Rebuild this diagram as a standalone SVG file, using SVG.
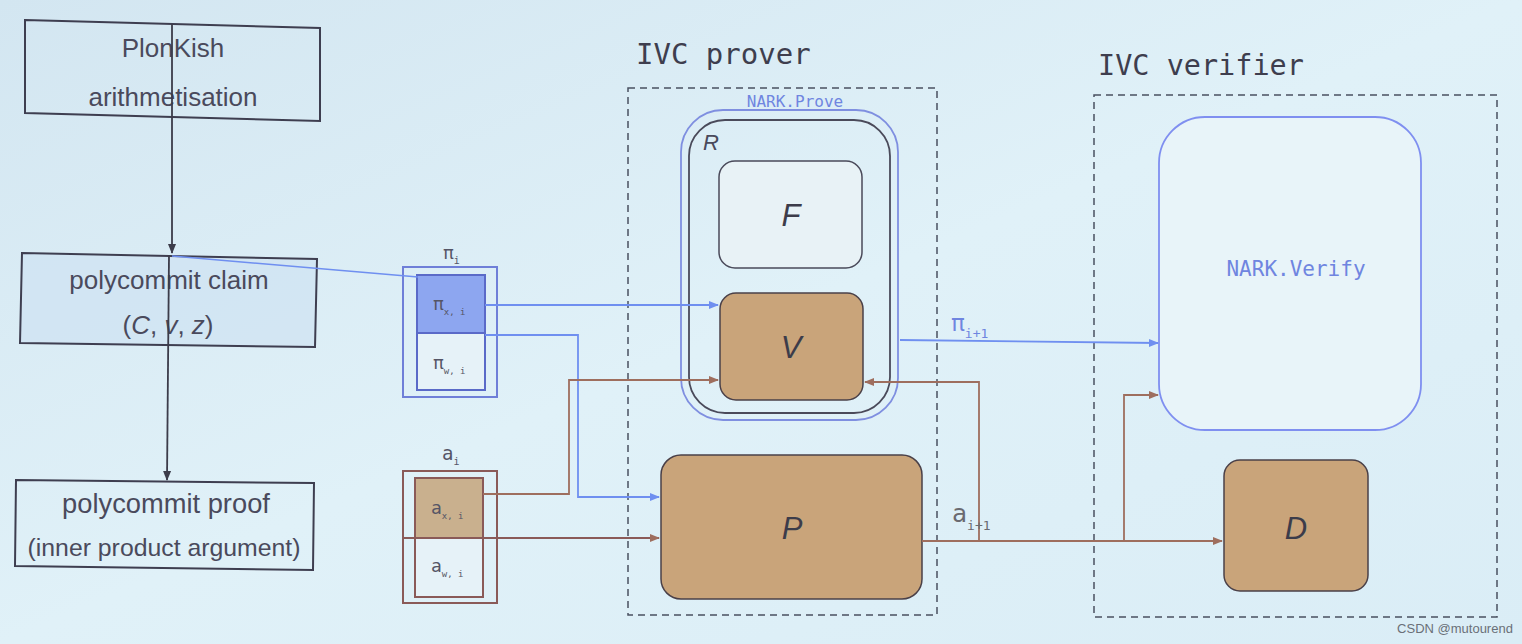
<svg xmlns="http://www.w3.org/2000/svg" width="1522" height="644" viewBox="0 0 1522 644">
<defs>
<linearGradient id="bg" x1="0" y1="0" x2="1" y2="1">
<stop offset="0" stop-color="#d3e6f1"/>
<stop offset="0.5" stop-color="#e0f1f8"/>
<stop offset="1" stop-color="#daedf6"/>
</linearGradient>
<marker id="ab" viewBox="0 0 10 10" refX="9" refY="5" markerWidth="10" markerHeight="10" markerUnits="userSpaceOnUse" orient="auto"><path d="M0,1 L10,5 L0,9 z" fill="#6f8ff0"/></marker>
<marker id="ar" viewBox="0 0 10 10" refX="9" refY="5" markerWidth="10" markerHeight="10" markerUnits="userSpaceOnUse" orient="auto"><path d="M0,1 L10,5 L0,9 z" fill="#9e6e5e"/></marker>
<marker id="ak" viewBox="0 0 10 10" refX="9" refY="5" markerWidth="10" markerHeight="10" markerUnits="userSpaceOnUse" orient="auto"><path d="M0,1 L10,5 L0,9 z" fill="#3c3c4a"/></marker>
</defs>
<style>
.lt{font-family:"Liberation Sans",Arial,sans-serif;font-size:26px;fill:#4a4a5c;text-anchor:middle}
.mono{font-family:"DejaVu Sans Mono","Liberation Mono",monospace;fill:#3e3e4e}
.big{font-family:"Liberation Sans",Arial,sans-serif;font-style:italic;font-size:31px;fill:#3c3c4a;text-anchor:middle}
.dash{fill:none;stroke:#4a5060;stroke-width:1.5;stroke-dasharray:7 5}
.tan{fill:#c9a47a;stroke:#4a4048;stroke-width:1.5}
.bl{fill:none;stroke:#6f8ff0;stroke-width:1.8}
.br{fill:none;stroke:#9e6e5e;stroke-width:1.8}
.sub{font-family:"DejaVu Sans Mono","Liberation Mono",monospace;fill:#555566}
</style>
<rect width="1522" height="644" fill="url(#bg)"/>

<g id="plonkish">
<polygon points="25,20 320,28 320,121 25,113" fill="none" stroke="#3e3e50" stroke-width="2"/>
<text class="lt" x="173" y="57">PlonKish</text>
<text class="lt" x="173" y="106">arithmetisation</text>
</g>
<g id="claim">
<polygon points="22,253 317,259 315,347 20,343" fill="#cfe3f2" fill-opacity="0.7" stroke="#3e3e50" stroke-width="2"/>
<text class="lt" x="169" y="289">polycommit claim</text>
<text class="lt" x="168" y="334">(<tspan font-style="italic">C</tspan>, <tspan font-style="italic">v</tspan>, <tspan font-style="italic">z</tspan>)</text>
</g>
<g id="proof">
<polygon points="16,480 314,483 313,570 15,566" fill="none" stroke="#3e3e50" stroke-width="2"/>
<text class="lt" x="166" y="513" style="font-size:27.3px">polycommit proof</text>
<text class="lt" x="164" y="556" style="font-size:24.8px">(inner product argument)</text>
</g>

<g id="pi_i">
<text class="sub" x="443" y="259" font-size="18">π<tspan font-size="10" dy="5">i</tspan></text>
<rect x="403" y="267" width="94" height="130" fill="none" stroke="#6f7fd8" stroke-width="2"/>
<rect x="417" y="275" width="68" height="58" fill="#8da6f0" stroke="#5a6ac8" stroke-width="2"/>
<rect x="417" y="333" width="68" height="57" fill="#e6f2f8" stroke="#5a6ac8" stroke-width="2"/>
<text class="sub" x="433" y="310" font-size="18">π<tspan font-size="9" dy="5">x, i</tspan></text>
<text class="sub" x="433" y="369" font-size="18">π<tspan font-size="9" dy="5">w, i</tspan></text>
</g>
<g id="a_i">
<text class="sub" x="442" y="460" font-size="19">a<tspan font-size="10" dy="5">i</tspan></text>
<rect x="403" y="471" width="94" height="132" fill="none" stroke="#8a5a58" stroke-width="2"/>
<rect x="415" y="478" width="68" height="60" fill="#c9b08e" stroke="#8a5a58" stroke-width="2"/>
<rect x="415" y="538" width="68" height="59" fill="#e6f2f8" stroke="#8a5a58" stroke-width="2"/>
<text class="sub" x="431" y="514" font-size="18">a<tspan font-size="9" dy="5">x, i</tspan></text>
<text class="sub" x="431" y="572" font-size="18">a<tspan font-size="9" dy="5">w, i</tspan></text>
</g>

<g id="ivc_prover">
<text class="mono" x="636" y="64" font-size="29">IVC prover</text>
<rect class="dash" x="628" y="88" width="309" height="527"/>
</g>
<g id="ivc_verifier">
<text class="mono" x="1098" y="75" font-size="28.5">IVC verifier</text>
<rect class="dash" x="1094" y="95" width="403" height="522"/>
</g>

<g id="nark_prove">
<text class="mono" x="795" y="107" font-size="16" text-anchor="middle" style="fill:#6f85e0">NARK.Prove</text>
<rect x="681" y="110" width="217" height="310" rx="42" fill="none" stroke="#7f8fe0" stroke-width="1.8"/>
</g>
<g id="R">
<rect x="689" y="120" width="201" height="293" rx="36" fill="none" stroke="#4a4a5a" stroke-width="1.8"/>
<text x="703" y="150" font-family="Liberation Sans,Arial,sans-serif" font-style="italic" font-size="22" fill="#4a4a5c">R</text>
</g>
<g id="F">
<rect x="719" y="161" width="143" height="107" rx="16" fill="#e8f2f6" stroke="#4a4a5a" stroke-width="1.5"/>
<text class="big" x="791" y="226">F</text>
</g>
<g id="V">
<rect class="tan" x="720" y="293" width="143" height="107" rx="16"/>
<text class="big" x="791" y="358">V</text>
</g>
<g id="P">
<rect class="tan" x="661" y="455" width="261" height="144" rx="20"/>
<text class="big" x="792" y="539">P</text>
</g>
<g id="nark_verify">
<rect x="1159" y="117" width="262" height="313" rx="46" fill="#e8f4f9" stroke="#7f8ff0" stroke-width="1.8"/>
<text class="mono" x="1296" y="276" font-size="21" text-anchor="middle" style="fill:#6f85e0">NARK.Verify</text>
</g>
<g id="D">
<rect class="tan" x="1224" y="460" width="144" height="131" rx="16"/>
<text class="big" x="1296" y="539">D</text>
</g>

<g id="connectors">
<line x1="172" y1="24" x2="172" y2="253" stroke="#3c3c4a" stroke-width="1.8" marker-end="url(#ak)"/>
<line x1="169" y1="255" x2="167" y2="480" stroke="#3c3c4a" stroke-width="1.8" marker-end="url(#ak)"/>
<line x1="172" y1="256" x2="418" y2="277" stroke="#6f8ff0" stroke-width="1.5"/>
<path class="bl" d="M485,305 L718,305" marker-end="url(#ab)"/>
<path class="bl" d="M485,335 L578,335 L578,497 L659,497" marker-end="url(#ab)"/>
<path class="br" d="M483,494 L569,494 L569,380 L718,380" marker-end="url(#ar)"/>
<path d="M403,538 L659,538" fill="none" stroke="#8a5a58" stroke-width="2.2" marker-end="url(#ar)"/>
<path class="bl" d="M900,340 L1158,343" marker-end="url(#ab)"/>
<path class="br" d="M922,541 L1222,541" marker-end="url(#ar)"/>
<path class="br" d="M979,541 L979,382 L865,382" marker-end="url(#ar)"/>
<path class="br" d="M1124,541 L1124,395 L1158,395" marker-end="url(#ar)"/>
<text class="sub" x="951" y="331" font-size="23" style="fill:#6f85e0">π<tspan font-size="13" dy="7">i+1</tspan></text>
<text class="sub" x="952" y="522" font-size="25" style="fill:#6a6a70">a<tspan font-size="13" dy="8">i+1</tspan></text>
</g>

<text x="1455" y="633" font-family="Liberation Sans,Arial,sans-serif" font-size="13" fill="#6a7078" text-anchor="middle">CSDN @mutourend</text>
</svg>
